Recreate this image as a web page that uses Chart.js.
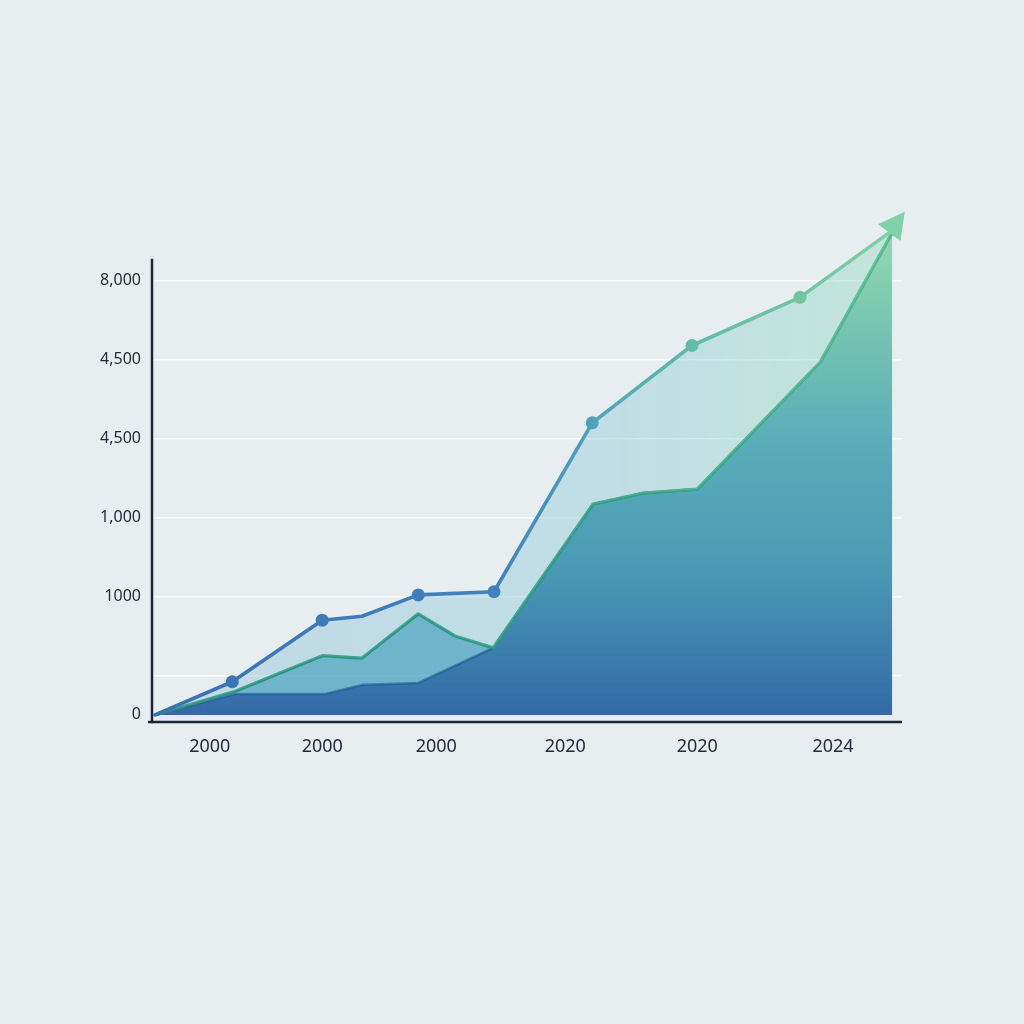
<!DOCTYPE html>
<html><head><meta charset="utf-8">
<script src="https://cdn.jsdelivr.net/npm/chart.js@4.4.1/dist/chart.umd.min.js"></script>
<style>html,body{margin:0;padding:0;background:#e8eef0;} canvas{display:block;}</style>
</head><body>
<canvas id="c" width="1024" height="1024"></canvas>
<script>
// ---- data ----
const xTickPositions = [7.7, 22.7, 37.9, 55.1, 72.7, 90.8];
const xTickLabels = ['2000', '2000', '2000', '2020', '2020', '2024'];
const yTickValues = [0, 500, 1500, 2500, 3500, 4500, 5500];
const yTickLabels = ['0', '', '1000', '1,000', '4,500', '4,500', '8,000'];

const upperX = [0.4, 10.7, 22.7, 28.0, 35.5, 45.6, 58.7, 72.0, 86.4, 98.3];
const upperY = [0, 420, 1200, 1250, 1520, 1560, 3700, 4680, 5290, 6110];

const middleX = [0.4, 11.1, 22.7, 28.0, 35.5, 40.4, 45.5, 58.8, 65.5, 72.7, 89.1, 98.7];
const middleY = [0, 300, 750, 720, 1280, 1000, 850, 2670, 2810, 2860, 4470, 6110];

const lowerX = [0.4, 11.1, 23.1, 28.0, 35.5, 45.5, 58.8, 65.5, 72.7, 89.1, 98.7];
const lowerY = [0, 265, 265, 380, 405, 850, 2670, 2810, 2860, 4470, 6110];

// ---- axis range ----
const X_MIN = 0, X_MAX = 100, Y_MIN = -90, Y_MAX = 6460, Y_AXIS_TOP = 5780;

const TOP_STOPS = [[0,'#3872b4'],[0.46,'#4182bd'],[0.59,'#4ea4bb'],[0.72,'#62bba6'],[0.86,'#70c6a2'],[1,'#80d2a8']];
const GREEN_STOPS = [[0,'#2a8f78'],[0.5,'#2b9a7c'],[0.75,'#3aa882'],[1,'#55bd8c']];
const LIGHT_STOPS = [[0,'rgba(120,180,212,0.35)'],[0.6,'rgba(120,190,210,0.35)'],[1,'rgba(135,215,180,0.38)']];
const MAIN_STOPS = [[0,'#3165a3'],[0.02,'#346ba7'],[0.31,'#4a9cb6'],[0.55,'#5aaeb8'],[0.82,'#7ecbb0'],[0.95,'#93d9b4'],[1,'#98dcb5']];

function hGrad(chart, stops) {
  const a = chart.chartArea;
  if (!a) return stops[0][1];
  const g = chart.ctx.createLinearGradient(a.left, 0, a.right, 0);
  stops.forEach(s => g.addColorStop(s[0], s[1]));
  return g;
}
function vGrad(chart, stops) {
  const a = chart.chartArea;
  if (!a) return stops[0][1];
  const g = chart.ctx.createLinearGradient(0, a.bottom, 0, a.top);
  stops.forEach(s => g.addColorStop(s[0], s[1]));
  return g;
}
const toPts = (xs, ys) => xs.map((x, i) => ({x, y: ys[i]}));

const axesAndArrow = {
  id: 'axesAndArrow',
  afterDatasetsDraw(chart) {
    const {ctx, chartArea: a, scales: {y}} = chart;
    ctx.save();
    ctx.strokeStyle = '#1c2638';
    ctx.lineWidth = 2.5;
    ctx.beginPath();
    ctx.moveTo(a.left, y.getPixelForValue(Y_AXIS_TOP));
    ctx.lineTo(a.left, a.bottom + 1.25);
    ctx.stroke();
    ctx.beginPath();
    ctx.moveTo(a.left - 4, a.bottom);
    ctx.lineTo(a.right, a.bottom);
    ctx.stroke();
    const up = chart.getDatasetMeta(0).data, mid = chart.getDatasetMeta(1).data;
    const p = up[up.length - 1], q = up[up.length - 2];
    const m1 = mid[mid.length - 1], m0 = mid[mid.length - 2];
    const a1 = Math.atan2(p.y - q.y, p.x - q.x), a2 = Math.atan2(m1.y - m0.y, m1.x - m0.x);
    const ang = 0.3 * a1 + 0.7 * a2;
    const len = 26, hw = 14;
    const dx = Math.cos(ang), dy = Math.sin(ang);
    ctx.fillStyle = '#7fd1a7';
    ctx.beginPath();
    ctx.moveTo(p.x + dx * len, p.y + dy * len);
    ctx.lineTo(p.x - dy * hw, p.y + dx * hw);
    ctx.lineTo(p.x + dy * hw, p.y - dx * hw);
    ctx.closePath();
    ctx.fill();
    ctx.restore();
  }
};

const FONT = 'Noto Sans, Open Sans, sans-serif';

new Chart(document.getElementById('c'), {
  type: 'line',
  data: {
    datasets: [
      {
        data: toPts(upperX, upperY),
        borderColor: c => hGrad(c.chart, TOP_STOPS),
        borderWidth: 3.6,
        borderJoinStyle: 'round',
        borderCapStyle: 'round',
        pointRadius: [0, 6.5, 6.5, 0, 6.5, 6.5, 6.5, 6.5, 6.5, 0],
        pointBackgroundColor: c => hGrad(c.chart, TOP_STOPS),
        pointBorderWidth: 0,
        fill: {target: 1},
        backgroundColor: c => hGrad(c.chart, LIGHT_STOPS),
        tension: 0
      },
      {
        data: toPts(middleX, middleY),
        borderColor: c => hGrad(c.chart, GREEN_STOPS),
        borderWidth: 3.3,
        borderJoinStyle: 'round',
        pointRadius: 0,
        fill: {target: 2},
        backgroundColor: 'rgba(55,152,186,0.68)',
        tension: 0
      },
      {
        data: toPts(lowerX, lowerY),
        borderColor: '#2c5e9c',
        borderWidth: 2.6,
        borderJoinStyle: 'round',
        pointRadius: 0,
        fill: 'origin',
        backgroundColor: c => vGrad(c.chart, MAIN_STOPS),
        tension: 0
      }
    ]
  },
  options: {
    responsive: false,
    animation: false,
    events: [],
    layout: {padding: {left: 0, right: 122, top: 205, bottom: 242}},
    plugins: {legend: {display: false}, tooltip: {enabled: false}},
    scales: {
      x: {
        type: 'linear', min: X_MIN, max: X_MAX,
        afterBuildTicks: s => { s.ticks = xTickPositions.map(v => ({value: v})); },
        afterFit: s => { s.height = 60; },
        ticks: {
          autoSkip: false, maxRotation: 0, padding: 14, color: '#222c3a',
          font: {family: FONT, size: 18},
          callback: (v, i) => xTickLabels[i]
        },
        grid: {display: false, drawTicks: false},
        border: {display: false}
      },
      y: {
        type: 'linear', min: Y_MIN, max: Y_MAX,
        afterBuildTicks: s => { s.ticks = yTickValues.map(v => ({value: v})); },
        afterFit: s => { s.width = 152; },
        ticks: {
          autoSkip: false, padding: 11, color: '#222c3a',
          font: {family: FONT, size: 16},
          callback: (v, i) => yTickLabels[i]
        },
        grid: {
          drawTicks: false,
          lineWidth: 1.5,
          color: c => (c.tick && c.tick.value === 0) ? 'rgba(0,0,0,0)' : 'rgba(255,255,255,0.8)'
        },
        border: {display: false}
      }
    }
  },
  plugins: [axesAndArrow]
});
</script>
</body></html>
